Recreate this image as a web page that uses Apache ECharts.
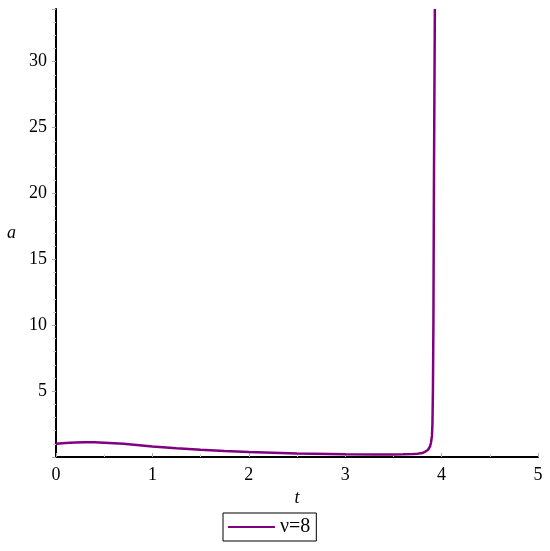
<!DOCTYPE html>
<html>
<head>
<meta charset="utf-8">
<script src="https://cdn.jsdelivr.net/npm/echarts@6/dist/echarts.min.js"></script>
<style>html,body{margin:0;padding:0;background:#fff;}#c{width:550px;height:551px;}</style>
</head>
<body>
<div id="c"></div>
<script>
var tValues = [0,0.1,0.2,0.3,0.4,0.5,0.7,1.0,1.25,1.5,1.75,2.0,2.5,3.0,3.3,3.5,3.6,3.7,3.75,3.8,3.83,3.86,3.88,3.89,3.9,3.905,3.91,3.915,3.92,3.93];
var aValues = [1.0,1.06,1.1,1.12,1.12,1.09,1.0,0.8,0.67,0.55,0.46,0.38,0.27,0.21,0.19,0.19,0.2,0.22,0.25,0.3,0.4,0.55,0.8,1.1,1.6,2.5,5,10,20,34];
var seriesName = 'ν=8';
var xTicks = [0,1,2,3,4,5];
var yTicks = [5,10,15,20,25,30];

var pts = tValues.map(function(t,i){return [t,aValues[i]];});
var font = 'Liberation Serif';
var chart = echarts.init(document.getElementById('c'));
chart.setOption({
  animation:false,
  backgroundColor:'#fff',
  grid:{left:56,right:12,top:9,bottom:94},
  legend:{
    left:223, top:513,
    data:[seriesName],
    borderColor:'#000', borderWidth:1, borderRadius:0,
    padding:[4,6,4,5],
    itemWidth:47, itemHeight:14,
    icon:'path://M0,6L47,6L47,8L0,8Z',
    textStyle:{fontFamily:font,fontSize:20,color:'#000'},
    itemGap:0
  },
  xAxis:{
    type:'value', min:0, max:5, interval:1,
    name:'t', nameLocation:'middle', nameGap:31,
    nameTextStyle:{fontFamily:font,fontStyle:'italic',fontSize:18,color:'#000'},
    axisLine:{onZero:false,lineStyle:{color:'#000',width:2}},
    axisTick:{show:true,length:4,inside:true,lineStyle:{color:'#aaa'}},
    minorTick:{show:true,splitNumber:2,length:3,lineStyle:{color:'#ccc'}},
    axisLabel:{fontFamily:font,fontSize:18,color:'#000',margin:9,
      formatter:function(v){return xTicks.indexOf(v)>=0?String(v):'';}},
    splitLine:{show:false}
  },
  yAxis:{
    type:'value', min:0, max:34, interval:5,
    name:'a', nameLocation:'middle', nameGap:40, nameRotate:0,
    nameTextStyle:{fontFamily:font,fontStyle:'italic',fontSize:18,color:'#000'},
    axisLine:{show:true,onZero:false,lineStyle:{color:'#000',width:2}},
    axisTick:{show:true,length:4,lineStyle:{color:'#aaa'}},
    minorTick:{show:true,splitNumber:5,length:3,lineStyle:{color:'#ccc'}},
    axisLabel:{fontFamily:font,fontSize:18,color:'#000',margin:9,
      formatter:function(v){return yTicks.indexOf(v)>=0?String(v):'';}},
    splitLine:{show:false}
  },
  series:[{
    name:seriesName, type:'line', data:pts, showSymbol:false, smooth:false,
    lineStyle:{color:'#800080',width:2.5}, itemStyle:{color:'#800080'},
    clip:true
  }]
});
</script>
</body>
</html>
